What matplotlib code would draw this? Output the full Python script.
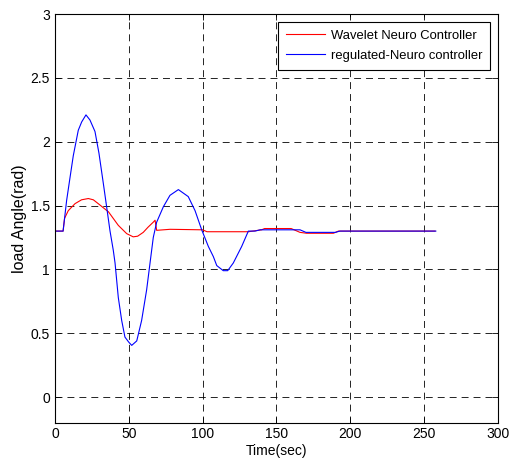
import matplotlib
matplotlib.use("Agg")
import matplotlib.pyplot as plt

# -----------------------------
# DATA
# -----------------------------
t_wavelet = [0, 5.5, 6.5, 9, 13.6, 18, 22.6, 26, 29.3, 36.3, 42.9, 48.6, 53, 56,
             59.8, 63, 66.6, 67.8, 68.9, 78, 100, 103, 131, 140, 142, 160, 166,
             170.5, 188.6, 192, 231, 250, 257.5]
y_wavelet = [1.30, 1.30, 1.40, 1.46, 1.515, 1.545, 1.555, 1.545, 1.515, 1.45,
             1.345, 1.28, 1.255, 1.26, 1.29, 1.33, 1.37, 1.385, 1.306, 1.314,
             1.31, 1.295, 1.295, 1.31, 1.32, 1.32, 1.29, 1.283, 1.283, 1.30,
             1.30, 1.30, 1.30]

t_regulated = [0, 5.5, 7.9, 10.2, 12.4, 15.8, 18.1, 21, 23.7, 27.1, 29.8, 32.8,
               35, 37.3, 39.5, 40.7, 42.9, 45.2, 47.4, 50, 52, 55.4, 58.7, 62.1,
               64.4, 66.6, 68.9, 73.4, 77.9, 83.6, 90.3, 94.9, 99.4, 103.9,
               107.3, 109.6, 114, 117, 120.8, 126.5, 131, 135.5, 139, 166, 170,
               190, 193, 258]
y_regulated = [1.30, 1.30, 1.54, 1.72, 1.89, 2.09, 2.155, 2.21, 2.17, 2.08,
               1.91, 1.67, 1.49, 1.30, 1.15, 1.05, 0.78, 0.60, 0.47, 0.43,
               0.405, 0.44, 0.60, 0.84, 1.05, 1.25, 1.37, 1.49, 1.58, 1.625,
               1.57, 1.46, 1.31, 1.18, 1.10, 1.03, 0.99, 0.99, 1.05, 1.18,
               1.30, 1.30, 1.31, 1.31, 1.29, 1.29, 1.30, 1.30]

x_ticks = [0, 50, 100, 150, 200, 250, 300]
y_ticks = [0, 0.5, 1, 1.5, 2, 2.5, 3]
y_tick_labels = ["0", "0.5", "1", "1.5", "2", "2.5", "3"]

# -----------------------------
# PLOT
# -----------------------------
plt.rcParams["font.family"] = ["Liberation Sans", "DejaVu Sans"]
plt.rcParams["lines.scale_dashes"] = False

fig = plt.figure(figsize=(5.09, 4.67), dpi=100)
ax = fig.add_axes([0.108, 0.095, 0.870, 0.875])

ax.plot(t_wavelet, y_wavelet, color="#ff0000", lw=0.8,
        label="Wavelet Neuro Controller")
ax.plot(t_regulated, y_regulated, color="#0000ff", lw=0.8,
        label="regulated-Neuro controller")

ax.set_xlim(0, 300)
ax.set_ylim(-0.2, 3)
ax.set_xticks(x_ticks)
ax.set_yticks(y_ticks)
ax.set_yticklabels(y_tick_labels)

ax.grid(True, color="black", linestyle=(0, (5, 3.6)), lw=0.6)
ax.tick_params(direction="in", top=True, right=True, labelsize=10,
               length=4, width=0.6)
for spine in ax.spines.values():
    spine.set_linewidth(0.8)

ax.set_xlabel("Time(sec)", fontsize=10, labelpad=2)
ax.set_ylabel("load Angle(rad)", fontsize=11.5, labelpad=3)

leg = ax.legend(loc="upper right", fontsize=9.4, fancybox=False, framealpha=1,
                edgecolor="black", borderaxespad=0.6, borderpad=0.6,
                handlelength=3.0, handletextpad=0.4, labelspacing=0.6)
leg.get_frame().set_linewidth(0.8)

fig.savefig("out.png", dpi=100)
